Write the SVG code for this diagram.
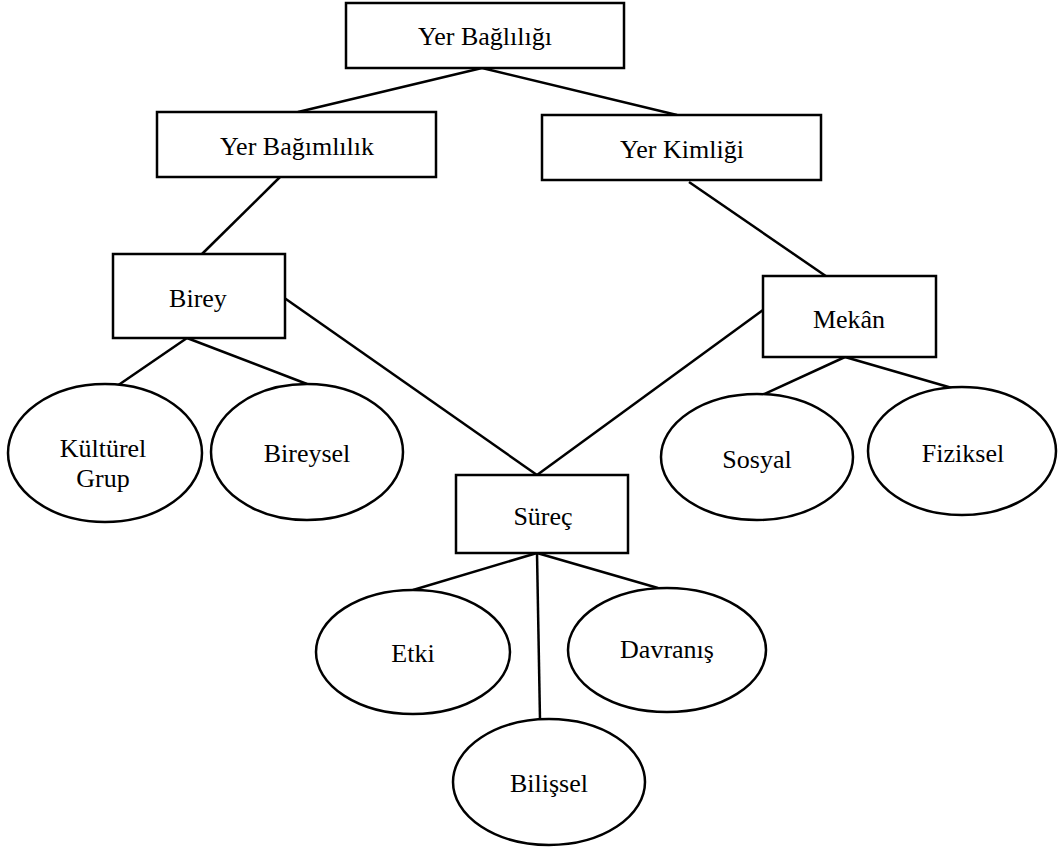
<svg xmlns="http://www.w3.org/2000/svg" width="1058" height="847" viewBox="0 0 1058 847">
  <style>
    .box { fill: #fff; stroke: #000; stroke-width: 2.5; }
    .oval { fill: #fff; stroke: #000; stroke-width: 2.5; }
    .link { stroke: #000; stroke-width: 2.5; fill: none; }
    text { font-family: "Liberation Serif", "Times New Roman", serif; font-size: 26px; fill: #000; text-anchor: middle; }
  </style>
  <rect width="1058" height="847" fill="#fff"/>

  <g id="connectors">
    <line class="link" x1="482" y1="68" x2="298" y2="112"/>
    <line class="link" x1="482" y1="68" x2="677" y2="115"/>
    <line class="link" x1="280" y1="177" x2="202" y2="254"/>
    <line class="link" x1="689" y1="182" x2="833" y2="281"/>
    <line class="link" x1="187" y1="338" x2="117" y2="386"/>
    <line class="link" x1="187" y1="338" x2="307" y2="384"/>
    <line class="link" x1="283" y1="297" x2="537" y2="475"/>
    <line class="link" x1="763" y1="310" x2="537" y2="475"/>
    <line class="link" x1="845" y1="357" x2="760" y2="396"/>
    <line class="link" x1="845" y1="357" x2="952" y2="388"/>
    <line class="link" x1="537" y1="553" x2="413" y2="590"/>
    <line class="link" x1="537" y1="553" x2="540" y2="720"/>
    <line class="link" x1="537" y1="553" x2="658" y2="588"/>
  </g>

  <g id="yer-bagliligi">
    <rect class="box" x="346" y="3" width="278" height="65"/>
    <text x="485" y="45">Yer Bağlılığı</text>
  </g>

  <g id="yer-bagimlilik">
    <rect class="box" x="157" y="112" width="279" height="65"/>
    <text x="297" y="155">Yer Bağımlılık</text>
  </g>

  <g id="yer-kimligi">
    <rect class="box" x="542" y="115" width="279" height="65"/>
    <text x="682" y="158">Yer Kimliği</text>
  </g>

  <g id="birey">
    <rect class="box" x="113" y="254" width="172" height="84"/>
    <text x="198" y="307">Birey</text>
  </g>

  <g id="mekan">
    <rect class="box" x="763" y="276" width="173" height="81"/>
    <text x="849" y="328">Mekân</text>
  </g>

  <g id="surec">
    <rect class="box" x="456" y="475" width="172" height="78"/>
    <text x="543" y="525">Süreç</text>
  </g>

  <g id="kulturel-grup">
    <ellipse class="oval" cx="105" cy="453" rx="97" ry="69"/>
    <text x="103" y="457">Kültürel</text>
    <text x="103" y="487">Grup</text>
  </g>

  <g id="bireysel">
    <ellipse class="oval" cx="307" cy="452" rx="96" ry="68"/>
    <text x="307" y="462">Bireysel</text>
  </g>

  <g id="sosyal">
    <ellipse class="oval" cx="757" cy="457" rx="96" ry="63"/>
    <text x="757" y="468">Sosyal</text>
  </g>

  <g id="fiziksel">
    <ellipse class="oval" cx="962" cy="451" rx="94" ry="64"/>
    <text x="963" y="462">Fiziksel</text>
  </g>

  <g id="etki">
    <ellipse class="oval" cx="413" cy="652" rx="97" ry="62"/>
    <text x="413" y="662">Etki</text>
  </g>

  <g id="davranis">
    <ellipse class="oval" cx="667" cy="650" rx="99" ry="62"/>
    <text x="667" y="658">Davranış</text>
  </g>

  <g id="bilissel">
    <ellipse class="oval" cx="549" cy="782" rx="96" ry="63"/>
    <text x="549" y="792">Bilişsel</text>
  </g>
</svg>
